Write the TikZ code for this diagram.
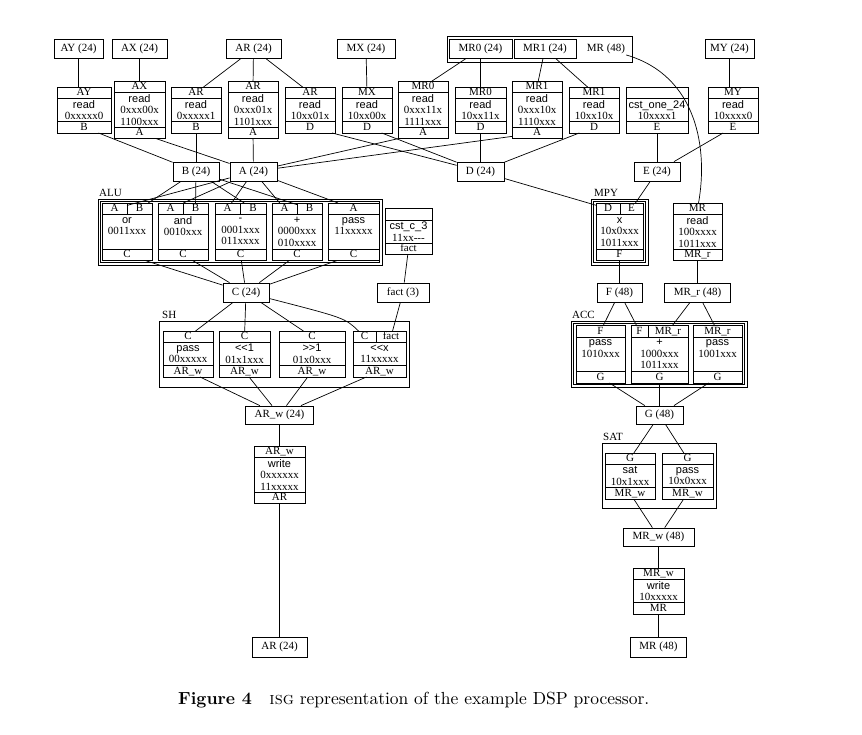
\documentclass[tikz,border=0pt]{standalone}
\usepackage{fontspec}
\newfontfamily\dgserif{Liberation Serif}
\newfontfamily\dgsans{Liberation Sans}
\newfontfamily\capfont[BoldFont=lmroman10-bold.otf, SmallCapsFont=lmromancaps10-regular.otf]{lmroman10-regular.otf}
\newcommand\dgf{\dgserif\fontsize{11}{11.5}\selectfont}
\newcommand\hv{\dgsans}
% record: name, xl, xr, ytop, nbody, header, body, footer
\newcommand{\recA}[8]{%
  \pgfmathsetmacro\rbot{#4+(#5+2)*11.5}%
  \pgfmathsetmacro\rhl{#4+11.5}%
  \pgfmathsetmacro\rfl{\rbot-11.5}%
  \pgfmathsetmacro\rcx{(#2+#3)/2}%
  \pgfmathsetmacro\rcy{(\rhl+\rfl)/2}%
  \draw[recline] (#2,#4) rectangle (#3,\rbot);
  \draw[recline] (#2,\rhl) -- (#3,\rhl) (#2,\rfl) -- (#3,\rfl);
  \node[cell, minimum width={#3-#2}] (#1-h) at (\rcx,{#4+5.75}) {#6};
  \node[cell, minimum width={#3-#2}] (#1-f) at (\rcx,{\rfl+5.75}) {#8};
  \node[bodyt] (#1-b) at (\rcx,\rcy) {#7};
}
% split header: name, xl, xdiv, xr, ytop, t1, t2
\newcommand{\splithdr}[7]{%
  \draw[recline] (#3,#5) -- (#3,{#5+11.5});
  \node[cell, minimum width={#3-#2}] (#1-h1) at ({(#2+#3)/2},{#5+5.75}) {#6};
  \node[cell, minimum width={#4-#3}] (#1-h2) at ({(#3+#4)/2},{#5+5.75}) {#7};
}
\begin{document}
\begin{tikzpicture}[x=1pt,y=-1pt,
  recline/.style={line width=0.8pt},
  edge/.style={line width=0.7pt},
  vn/.style={draw, line width=0.8pt, rectangle, inner sep=0pt, minimum height=19, text height=7.5pt, text depth=2pt, font=\dgf},
  cell/.style={rectangle, inner sep=0pt, outer sep=0pt, minimum height=11.5, text height=7.5pt, text depth=2pt, font=\dgf},
  bodyt/.style={inner sep=0pt, align=center, font=\dgf},
  lbl/.style={inner sep=0pt, anchor=base west, font=\dgf}]
\useasboundingbox (0,0) rectangle (862,734);

% top inputs
\node[vn, minimum width=49] (AY24) at (78.5,49) {AY (24)};
\node[vn, minimum width=55] (AX24) at (139.5,49) {AX (24)};
\node[vn, minimum width=55] (AR24) at (253.5,49) {AR (24)};
\node[vn, minimum width=58] (MX24) at (366,49) {MX (24)};
\draw[recline] (447,36) rectangle (632,62);
\node[vn, minimum width=63] (MRz24) at (480.5,49) {MR0 (24)};
\node[vn, minimum width=62] (MRo24) at (545,49) {MR1 (24)};
\node[inner sep=1pt, font=\dgf, text height=7.5pt, text depth=2pt] (MR48) at (606,49) {MR (48)};
\node[vn, minimum width=49] (MY24) at (729.5,49) {MY (24)};

% read records
\recA{AY}{57}{111}{87}{2}{AY}{{\hv read}\\0xxxxx0}{B}
\recA{AX}{114}{165}{81.25}{3}{AX}{{\hv read}\\0xxx00x\\1100xxx}{A}
\recA{ARb}{171}{221}{87}{2}{AR}{{\hv read}\\0xxxxx1}{B}
\recA{ARa}{228}{278}{81.25}{3}{AR}{{\hv read}\\0xxx01x\\1101xxx}{A}
\recA{ARd}{285}{335}{87}{2}{AR}{{\hv read}\\10xx01x}{D}
\recA{MX}{342}{392}{87}{2}{MX}{{\hv read}\\10xx00x}{D}
\recA{MRza}{398}{448}{81.25}{3}{MR0}{{\hv read}\\0xxx11x\\1111xxx}{A}
\recA{MRzd}{455}{506}{87}{2}{MR0}{{\hv read}\\10xx11x}{D}
\recA{MRoa}{512}{562}{81.25}{3}{MR1}{{\hv read}\\0xxx10x\\1110xxx}{A}
\recA{MRod}{569}{619}{87}{2}{MR1}{{\hv read}\\10xx10x}{D}
\recA{cst1}{626}{688}{87}{2}{}{{\hv cst\_one\_24}\\10xxxx1}{E}
\recA{MY}{708}{758}{87}{2}{MY}{{\hv read}\\10xxxx0}{E}

% collectors
\node[vn, minimum width=46] (B24) at (196,171.5) {B (24)};
\node[vn, minimum width=47] (A24) at (253.5,171.5) {A (24)};
\node[vn, minimum width=47] (D24) at (480.5,171.5) {D (24)};
\node[vn, minimum width=46] (E24) at (657,171.5) {E (24)};

% ALU
\draw[recline] (98,199) rectangle (382,265);
\draw[recline] (100.5,201.5) rectangle (379.5,262.5);
\node[lbl] (ALUl) at (99,196.5) {ALU};
\recA{alor}{102}{152}{203}{3}{}{{\hv or}\\0011xxx\\\mbox{}}{C}
\splithdr{alor}{102}{127}{152}{203}{A}{B}
\recA{aland}{158}{208}{203}{3}{}{{\hv and}\\0010xxx\\\mbox{}}{C}
\splithdr{aland}{158}{183}{208}{203}{A}{B}
\recA{alsub}{215}{266}{203}{3}{}{{\hv -}\\0001xxx\\011xxxx}{C}
\splithdr{alsub}{215}{240}{266}{203}{A}{B}
\recA{aladd}{272}{322}{203}{3}{}{{\hv +}\\0000xxx\\010xxxx}{C}
\splithdr{aladd}{272}{297}{322}{203}{A}{B}
\recA{alpass}{328}{379}{203}{3}{A}{{\hv pass}\\11xxxxx\\\mbox{}}{C}

\recA{cstc}{385}{432}{208.5}{2}{}{{\hv cst\_c\_3}\\11xx-{}-{}-}{fact}

\node[vn, minimum width=46] (C24) at (246,292.5) {C (24)};
\node[vn, minimum width=52] (fact3) at (403,292.5) {fact (3)};

% SH
\draw[recline] (159,321) rectangle (409,387);
\node[lbl] (SHl) at (162,318) {SH};
\recA{shpass}{163}{213}{331}{2}{C}{{\hv pass}\\00xxxxx}{AR\_w}
\recA{shl}{219}{270}{331}{2}{C}{{\hv <{}<1}\\01x1xxx}{AR\_w}
\recA{shr}{279}{345}{331}{2}{C}{{\hv >{}>1}\\01x0xxx}{AR\_w}
\recA{shx}{353}{406}{331}{2}{}{{\hv <{}<x}\\11xxxxx}{AR\_w}
\splithdr{shx}{353}{376}{406}{331}{C}{fact}

\node[vn, minimum width=68, minimum height=18] (ARw24) at (279.5,415) {AR\_w (24)};
\recA{arw}{254}{305}{446}{3}{AR\_w}{{\hv write}\\0xxxxxx\\11xxxxx}{AR}
\node[vn, minimum width=55, minimum height=20] (AR24b) at (279.5,647) {AR (24)};

% MPY
\draw[recline] (591,199) rectangle (648,265);
\draw[recline] (593.5,201.5) rectangle (645.5,262.5);
\node[lbl] (MPYl) at (594,196.5) {MPY};
\recA{mpy}{596}{643}{203}{3}{}{{\hv x}\\10x0xxx\\1011xxx}{F}
\splithdr{mpy}{596}{620}{643}{203}{D}{E}
\recA{mrrd}{673}{722}{203}{3}{MR}{{\hv read}\\100xxxx\\1011xxx}{MR\_r}

\node[vn, minimum width=45] (F48) at (619.5,292.5) {F (48)};
\node[vn, minimum width=66] (MRr48) at (697.5,292.5) {MR\_r (48)};

% ACC
\draw[recline] (571,321) rectangle (747,387);
\draw[recline] (573.5,323.5) rectangle (744.5,384.5);
\node[lbl] (ACCl) at (572,318) {ACC};
\recA{acf}{576}{625}{325.5}{3}{F}{{\hv pass}\\1010xxx\\\mbox{}}{G}
\recA{acadd}{631}{688}{325.5}{3}{}{{\hv +}\\1000xxx\\1011xxx}{G}
\splithdr{acadd}{631}{648}{688}{325.5}{F}{MR\_r}
\recA{acmr}{693}{742}{325.5}{3}{MR\_r}{{\hv pass}\\1001xxx\\\mbox{}}{G}

\node[vn, minimum width=47, minimum height=18] (G48) at (659.5,415) {G (48)};

% SAT
\draw[recline] (602,443) rectangle (716,508);
\node[lbl] (SATl) at (603,440) {SAT};
\recA{sat}{605}{655}{453}{2}{G}{{\hv sat}\\10x1xxx}{MR\_w}
\recA{satp}{662}{713}{453}{2}{G}{{\hv pass}\\10x0xxx}{MR\_w}

\node[vn, minimum width=71, minimum height=18] (MRw48) at (658.5,537) {MR\_w (48)};
\recA{mrw}{633}{684}{568}{2}{MR\_w}{{\hv write}\\10xxxxx}{MR}
\node[vn, minimum width=56, minimum height=20] (MR48b) at (658.5,647) {MR (48)};

% edges: inputs to read records
\draw[edge] (AY24) -- (AY24 |- AY-h.north);
\draw[edge] (AX24) -- (AX-h);
\draw[edge] (AR24) -- (ARb-h);
\draw[edge] (AR24) -- (ARa-h);
\draw[edge] (AR24) -- (ARd-h);
\draw[edge] (MX24) -- (MX-h);
\draw[edge] (MRz24) -- (MRza-h);
\draw[edge] (MRz24) -- (MRzd-h);
\draw[edge] (MRo24) -- (MRoa-h);
\draw[edge] (MRo24) -- (MRod-h);
\draw[edge] (MY24) -- (MY24 |- MY-h.north);
\draw[edge] (MR48) .. controls (698,76) and (708,150) .. (mrrd-h);

% read records to collectors
\draw[edge] (AY-f) -- (B24);
\draw[edge] (AX-f) -- (A24);
\draw[edge] (ARb-f) -- (B24);
\draw[edge] (ARa-f) -- (A24);
\draw[edge] (ARd-f) -- (D24);
\draw[edge] (MX-f) -- (D24);
\draw[edge] (MRza-f) -- (A24);
\draw[edge] (MRzd-f) -- (D24);
\draw[edge] (MRoa-f) -- (A24);
\draw[edge] (MRod-f) -- (D24);
\draw[edge] (cst1-f) -- (E24);
\draw[edge] (MY-f) -- (E24);

% collectors to ALU
\draw[edge] (B24) -- (alor-h2);
\draw[edge] (B24) -- (aland-h2);
\draw[edge] (B24) -- (alsub-h2);
\draw[edge] (B24) -- (aladd-h2);
\draw[edge] (A24) -- (alor-h1);
\draw[edge] (A24) -- (aland-h1);
\draw[edge] (A24) -- (alsub-h1);
\draw[edge] (A24) -- (aladd-h1);
\draw[edge] (A24) -- (alpass-h);
% ALU to C
\draw[edge] (alor-f) -- (C24);
\draw[edge] (aland-f) -- (C24);
\draw[edge] (alsub-f) -- (C24);
\draw[edge] (aladd-f) -- (C24);
\draw[edge] (alpass-f) -- (C24);
\draw[edge] (cstc-f) -- (fact3);
% C to SH
\draw[edge] (C24) -- (shpass-h);
\draw[edge] (C24) -- (shl-h);
\draw[edge] (C24) -- (shr-h);
\draw[edge] (C24) .. controls (345,318) .. (shx-h1);
\draw[edge] (fact3) -- (shx-h2);
% SH to ARw
\draw[edge] (shpass-f) -- (ARw24);
\draw[edge] (shl-f) -- (ARw24);
\draw[edge] (shr-f) -- (ARw24);
\draw[edge] (shx-f) -- (ARw24);
\draw[edge] (ARw24) -- (arw-h);
\draw[edge] (arw-f) -- (AR24b);

% MPY side
\draw[edge] (D24) -- (mpy-h1);
\draw[edge] (E24) -- (mpy-h2);
\draw[edge] (mpy-f) -- (F48);
\draw[edge] (mrrd-f) -- (MRr48);
\draw[edge] (F48) -- (acf-h);
\draw[edge] (F48) -- (acadd-h1);
\draw[edge] (MRr48) -- (acadd-h2);
\draw[edge] (MRr48) -- (acmr-h);
\draw[edge] (acf-f) -- (G48);
\draw[edge] (acadd-f) -- (G48);
\draw[edge] (acmr-f) -- (G48);
\draw[edge] (G48) -- (sat-h);
\draw[edge] (G48) -- (satp-h);
\draw[edge] (sat-f) -- (MRw48);
\draw[edge] (satp-f) -- (MRw48);
\draw[edge] (MRw48) -- (mrw-h);
\draw[edge] (mrw-f) -- (MR48b);

% caption
\node[inner sep=0pt, anchor=base west, font=\capfont\fontsize{17.5}{20}\selectfont] (cap) at (178,704)
  {\textbf{Figure 4}\quad\textsc{isg} representation of the example DSP processor.};
\end{tikzpicture}
\end{document}
